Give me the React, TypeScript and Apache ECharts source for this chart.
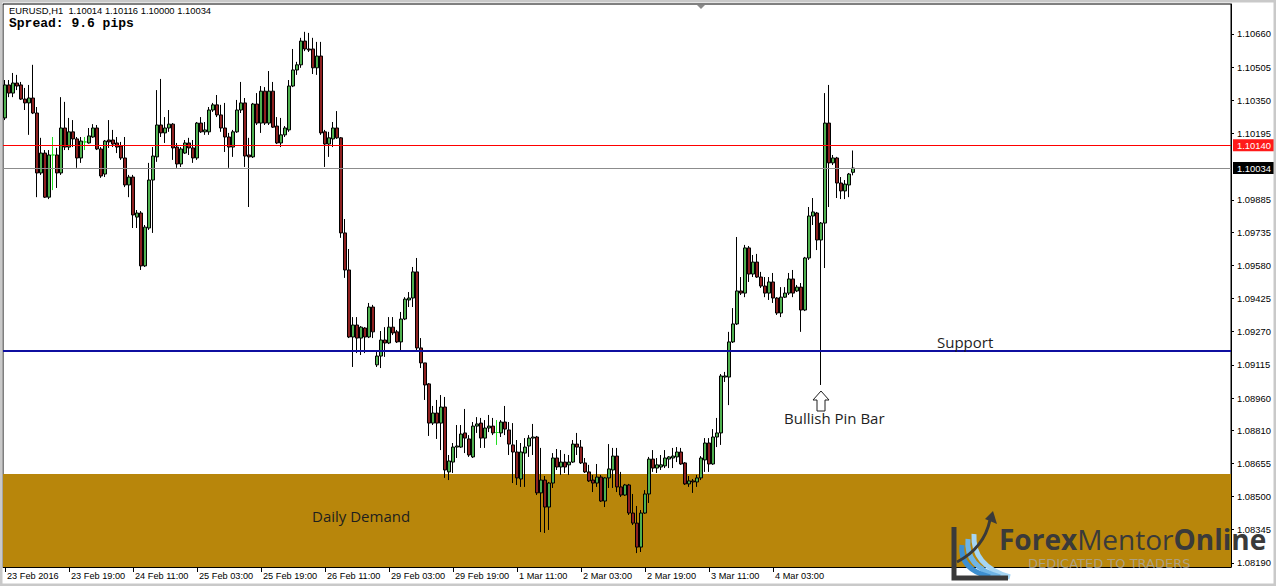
import React, { useEffect, useRef } from "react";
import * as echarts from "echarts";

// ---------- data ----------
const symbolName = "EURUSD,H1";
const year = 2016;
const days = ["23 Feb", "24 Feb", "25 Feb", "26 Feb", "29 Feb", "1 Mar", "2 Mar", "3 Mar", "4 Mar"];
const firstHour = 3;
const totalSlots = 307; // bars + empty chart-shift space
const labelEvery = 16;

// [open, close, low, high]
const candles: number[][] = [
  [1.10268, 1.10422, 1.10258, 1.10445], [1.10422, 1.10384, 1.10365, 1.10445], [1.10384, 1.10431, 1.10365, 1.10478],
  [1.10431, 1.10417, 1.10398, 1.10469], [1.10422, 1.10356, 1.10352, 1.10436], [1.10356, 1.10338, 1.10305, 1.10408],
  [1.10338, 1.10361, 1.10189, 1.10422], [1.10361, 1.10291, 1.10286, 1.10516], [1.10291, 1.10011, 1.09898, 1.10319],
  [1.10011, 1.10104, 1.10002, 1.10175], [1.10104, 1.09898, 1.09894, 1.10118], [1.09898, 1.10095, 1.09889, 1.10118],
  [1.10095, 1.10095, 1.09931, 1.10179], [1.10095, 1.10011, 1.09941, 1.10128], [1.10011, 1.10221, 1.10002, 1.10365],
  [1.10221, 1.10132, 1.10118, 1.10343], [1.10132, 1.10203, 1.10118, 1.10268], [1.10203, 1.10170, 1.10132, 1.10258],
  [1.10170, 1.10081, 1.10035, 1.10179], [1.10081, 1.10160, 1.10058, 1.10179], [1.10156, 1.10156, 1.10118, 1.10179],
  [1.10151, 1.10184, 1.10148, 1.10221], [1.10179, 1.10221, 1.10175, 1.10239], [1.10221, 1.10123, 1.10118, 1.10235],
  [1.10123, 1.09997, 1.09988, 1.10132], [1.10006, 1.10160, 1.09992, 1.10165], [1.10165, 1.10156, 1.10128, 1.10258],
  [1.10165, 1.10146, 1.10132, 1.10212], [1.10151, 1.10132, 1.10104, 1.10179], [1.10137, 1.10081, 1.10072, 1.10156],
  [1.10081, 1.09955, 1.09945, 1.10179], [1.09955, 1.09992, 1.09898, 1.10002], [1.09992, 1.09815, 1.09754, 1.10002],
  [1.09805, 1.09824, 1.09754, 1.09838], [1.09824, 1.09577, 1.09558, 1.09833], [1.09577, 1.09758, 1.09572, 1.09768],
  [1.09754, 1.09978, 1.09745, 1.10058], [1.09978, 1.10090, 1.09731, 1.10132], [1.10086, 1.10235, 1.10063, 1.10398],
  [1.10235, 1.10198, 1.10179, 1.10450], [1.10198, 1.10221, 1.10151, 1.10272], [1.10221, 1.10239, 1.10203, 1.10305],
  [1.10239, 1.10128, 1.10072, 1.10244], [1.10132, 1.10053, 1.10035, 1.10151], [1.10053, 1.10123, 1.10039, 1.10132],
  [1.10104, 1.10151, 1.10100, 1.10165], [1.10151, 1.10128, 1.10095, 1.10175], [1.10128, 1.10081, 1.10058, 1.10165],
  [1.10081, 1.10244, 1.10072, 1.10249], [1.10244, 1.10203, 1.10198, 1.10272], [1.10203, 1.10212, 1.10189, 1.10249],
  [1.10203, 1.10305, 1.10189, 1.10319], [1.10305, 1.10329, 1.10296, 1.10338], [1.10329, 1.10282, 1.10272, 1.10375],
  [1.10282, 1.10221, 1.10203, 1.10329], [1.10221, 1.10179, 1.10109, 1.10338], [1.10179, 1.10132, 1.10035, 1.10198],
  [1.10132, 1.10203, 1.10086, 1.10212], [1.10203, 1.10305, 1.10198, 1.10352], [1.10305, 1.10338, 1.10291, 1.10436],
  [1.10338, 1.10090, 1.10039, 1.10361], [1.10095, 1.10086, 1.09852, 1.10175], [1.10086, 1.10333, 1.10081, 1.10338],
  [1.10333, 1.10244, 1.10235, 1.10384], [1.10244, 1.10393, 1.10198, 1.10417], [1.10393, 1.10244, 1.10235, 1.10412],
  [1.10244, 1.10393, 1.10235, 1.10487], [1.10393, 1.10225, 1.10221, 1.10436], [1.10230, 1.10151, 1.10146, 1.10272],
  [1.10151, 1.10189, 1.10132, 1.10268], [1.10189, 1.10221, 1.10179, 1.10230], [1.10212, 1.10417, 1.10203, 1.10445],
  [1.10417, 1.10492, 1.10412, 1.10590], [1.10492, 1.10516, 1.10469, 1.10530], [1.10516, 1.10627, 1.10502, 1.10642],
  [1.10627, 1.10590, 1.10580, 1.10670], [1.10590, 1.10585, 1.10576, 1.10665], [1.10590, 1.10502, 1.10473, 1.10642],
  [1.10502, 1.10557, 1.10469, 1.10623], [1.10557, 1.10198, 1.10189, 1.10623], [1.10203, 1.10146, 1.10039, 1.10212],
  [1.10146, 1.10175, 1.10086, 1.10203], [1.10170, 1.10221, 1.10132, 1.10249], [1.10221, 1.10175, 1.10170, 1.10300],
  [1.10175, 1.09731, 1.09708, 1.10179], [1.09731, 1.09558, 1.09521, 1.09796], [1.09558, 1.09245, 1.09240, 1.09656],
  [1.09245, 1.09301, 1.09105, 1.09338], [1.09301, 1.09240, 1.09170, 1.09338], [1.09240, 1.09291, 1.09161, 1.09296],
  [1.09287, 1.09245, 1.09170, 1.09291], [1.09245, 1.09385, 1.09240, 1.09404], [1.09385, 1.09269, 1.09240, 1.09395],
  [1.09115, 1.09156, 1.09105, 1.09184], [1.09156, 1.09231, 1.09100, 1.09273], [1.09231, 1.09217, 1.09152, 1.09291],
  [1.09217, 1.09291, 1.09212, 1.09338], [1.09291, 1.09264, 1.09254, 1.09338], [1.09269, 1.09222, 1.09217, 1.09278],
  [1.09222, 1.09329, 1.09184, 1.09362], [1.09329, 1.09422, 1.09324, 1.09431], [1.09418, 1.09427, 1.09385, 1.09455],
  [1.09427, 1.09549, 1.09385, 1.09572], [1.09549, 1.09194, 1.09184, 1.09614], [1.09194, 1.09124, 1.09100, 1.09240],
  [1.09124, 1.09021, 1.08951, 1.09124], [1.09026, 1.08843, 1.08783, 1.09030], [1.08843, 1.08890, 1.08834, 1.08923],
  [1.08890, 1.08843, 1.08769, 1.08951], [1.08843, 1.08918, 1.08717, 1.08974], [1.08918, 1.08624, 1.08587, 1.08965],
  [1.08615, 1.08666, 1.08577, 1.08694], [1.08661, 1.08731, 1.08610, 1.08750], [1.08731, 1.08736, 1.08680, 1.08834],
  [1.08731, 1.08792, 1.08727, 1.08834], [1.08797, 1.08773, 1.08703, 1.08909], [1.08769, 1.08694, 1.08685, 1.08787],
  [1.08685, 1.08829, 1.08680, 1.08848], [1.08829, 1.08839, 1.08797, 1.08871], [1.08843, 1.08773, 1.08727, 1.08867],
  [1.08773, 1.08820, 1.08727, 1.08857], [1.08820, 1.08829, 1.08801, 1.08881], [1.08829, 1.08797, 1.08787, 1.08867],
  [1.08799, 1.08799, 1.08741, 1.08857], [1.08797, 1.08848, 1.08778, 1.08857], [1.08848, 1.08815, 1.08787, 1.08923],
  [1.08811, 1.08745, 1.08694, 1.08848], [1.08741, 1.08708, 1.08563, 1.08843], [1.08708, 1.08587, 1.08554, 1.08764],
  [1.08582, 1.08708, 1.08545, 1.08750], [1.08703, 1.08731, 1.08545, 1.08773], [1.08736, 1.08773, 1.08685, 1.08787],
  [1.08773, 1.08778, 1.08694, 1.08839], [1.08778, 1.08517, 1.08507, 1.08783], [1.08517, 1.08577, 1.08334, 1.08727],
  [1.08577, 1.08451, 1.08330, 1.08596], [1.08451, 1.08563, 1.08344, 1.08568], [1.08563, 1.08680, 1.08540, 1.08703],
  [1.08680, 1.08638, 1.08624, 1.08722], [1.08638, 1.08661, 1.08601, 1.08717], [1.08661, 1.08638, 1.08610, 1.08699],
  [1.08648, 1.08661, 1.08601, 1.08694], [1.08661, 1.08745, 1.08657, 1.08764], [1.08745, 1.08731, 1.08694, 1.08797],
  [1.08731, 1.08657, 1.08652, 1.08764], [1.08657, 1.08615, 1.08610, 1.08680], [1.08615, 1.08573, 1.08568, 1.08648],
  [1.08577, 1.08563, 1.08521, 1.08601], [1.08563, 1.08591, 1.08545, 1.08652], [1.08591, 1.08479, 1.08475, 1.08601],
  [1.08479, 1.08587, 1.08451, 1.08591], [1.08587, 1.08629, 1.08540, 1.08745], [1.08624, 1.08689, 1.08540, 1.08727],
  [1.08689, 1.08545, 1.08521, 1.08727], [1.08545, 1.08507, 1.08498, 1.08615], [1.08507, 1.08554, 1.08503, 1.08559],
  [1.08554, 1.08423, 1.08414, 1.08559], [1.08423, 1.08376, 1.08367, 1.08512], [1.08376, 1.08264, 1.08236, 1.08456],
  [1.08264, 1.08423, 1.08241, 1.08437], [1.08423, 1.08512, 1.08419, 1.08530], [1.08512, 1.08675, 1.08470, 1.08685],
  [1.08675, 1.08633, 1.08615, 1.08717], [1.08633, 1.08648, 1.08610, 1.08680], [1.08638, 1.08648, 1.08624, 1.08694],
  [1.08643, 1.08680, 1.08633, 1.08717], [1.08675, 1.08685, 1.08633, 1.08689], [1.08680, 1.08689, 1.08633, 1.08727],
  [1.08685, 1.08708, 1.08661, 1.08731], [1.08708, 1.08652, 1.08648, 1.08727], [1.08657, 1.08559, 1.08554, 1.08661],
  [1.08559, 1.08573, 1.08545, 1.08596], [1.08573, 1.08568, 1.08517, 1.08582], [1.08568, 1.08587, 1.08545, 1.08601],
  [1.08587, 1.08680, 1.08577, 1.08689], [1.08671, 1.08750, 1.08615, 1.08773], [1.08750, 1.08652, 1.08615, 1.08773],
  [1.08652, 1.08778, 1.08648, 1.08815], [1.08778, 1.08797, 1.08731, 1.08867], [1.08797, 1.09063, 1.08741, 1.09072],
  [1.09058, 1.09063, 1.09035, 1.09082], [1.09058, 1.09222, 1.08927, 1.09269], [1.09222, 1.09306, 1.09217, 1.09380],
  [1.09306, 1.09460, 1.09301, 1.09712], [1.09460, 1.09450, 1.09441, 1.09525], [1.09450, 1.09661, 1.09431, 1.09675],
  [1.09661, 1.09539, 1.09502, 1.09670], [1.09539, 1.09595, 1.09525, 1.09628], [1.09595, 1.09525, 1.09521, 1.09633],
  [1.09525, 1.09483, 1.09474, 1.09549], [1.09483, 1.09450, 1.09431, 1.09525], [1.09450, 1.09502, 1.09418, 1.09525],
  [1.09502, 1.09427, 1.09404, 1.09544], [1.09427, 1.09357, 1.09348, 1.09431], [1.09357, 1.09431, 1.09338, 1.09478],
  [1.09431, 1.09450, 1.09427, 1.09478], [1.09450, 1.09516, 1.09441, 1.09544], [1.09516, 1.09450, 1.09431, 1.09558],
  [1.09460, 1.09478, 1.09455, 1.09488], [1.09478, 1.09371, 1.09269, 1.09497], [1.09371, 1.09614, 1.09366, 1.09619],
  [1.09614, 1.09810, 1.09605, 1.09852], [1.09810, 1.09829, 1.09768, 1.09894], [1.09824, 1.09698, 1.09651, 1.09829],
  [1.09698, 1.09777, 1.09021, 1.09782], [1.09777, 1.10244, 1.09567, 1.10384], [1.10244, 1.10058, 1.09852, 1.10422],
  [1.10058, 1.10081, 1.10048, 1.10095], [1.10081, 1.09964, 1.09894, 1.10086], [1.09964, 1.09927, 1.09889, 1.09992],
  [1.09927, 1.09959, 1.09889, 1.09978], [1.09955, 1.10006, 1.09898, 1.10011], [1.10014, 1.10034, 1.10000, 1.10116],
];

const priceTicks = [1.0819, 1.08345, 1.085, 1.08655, 1.0881, 1.0896, 1.09115, 1.0927, 1.09425, 1.0958, 1.09735, 1.09885, 1.10195, 1.1035, 1.10505, 1.1066];
const yMin = 1.08171;
const yMax = 1.108;
const bidLevel = 1.1014;
const supportLevel = 1.0918;
const demandTop = 1.08605;
const spreadPips = 9.6;

// ---------- colours ----------
const bullFill = "#4fb14f";
const bearFill = "#8e2020";
const dojiColor = "#22dd22";
const zoneColor = "#b8860b";
const axisFont = "Liberation Sans";

const barTimes: string[] = [];
days.forEach((d, di) => {
  for (let h = di === 0 ? firstHour : 0; h < 24; h++) {
    barTimes.push(`${d} ${String(h).padStart(2, "0")}:00`);
  }
});
const categories: string[] = [];
for (let i = 0; i < totalSlots; i++) categories.push(i < barTimes.length ? barTimes[i] : `slot${i}`);
const lastBarLabel = Math.floor((barTimes.length - 1) / labelEvery) * labelEvery;
const showTime = (idx: number) => idx % labelEvery === 0 && idx <= lastBarLabel && idx < barTimes.length;

const last = candles[candles.length - 1];
const lastPrice = last[1];

function levelSeries(name: string, value: number, color: string, width: number, z: number, labelBg: string | null): any {
  const lineStyle = { color, width, type: "solid", opacity: 1 };
  return {
    name,
    type: "line",
    data: [],
    z,
    silent: true,
    color,
    itemStyle: { color },
    lineStyle,
    markLine: {
      silent: true,
      precision: 5,
      symbol: ["none", "none"],
      itemStyle: { color },
      lineStyle,
      label: labelBg
        ? {
            show: true, position: "end", distance: 2,
            formatter: () => value.toFixed(5),
            backgroundColor: labelBg, color: "#fff", padding: [2, 4, 1, 4], fontSize: 9.4, fontFamily: axisFont,
          }
        : { show: false },
      emphasis: { disabled: true },
      data: [{ yAxis: value, lineStyle }],
    },
  };
}

function buildOption(): any {
  const seriesData = candles.map((c) =>
    c[0] === c[1]
      ? { value: c, itemStyle: { color: dojiColor, color0: dojiColor, borderColor: dojiColor, borderColor0: dojiColor } }
      : c
  );
  return {
    animation: false,
    backgroundColor: "#ffffff",
    grid: { left: 3, top: 4, right: 45, bottom: 19, show: true, backgroundColor: "#ffffff", borderColor: "#000", borderWidth: 1 },
    xAxis: {
      type: "category",
      data: categories,
      boundaryGap: true,
      axisLine: { show: true, lineStyle: { color: "#000", width: 1 } },
      axisTick: { show: true, alignWithLabel: true, interval: (i: number) => showTime(i), length: 5, lineStyle: { color: "#000" } },
      axisLabel: {
        interval: (i: number) => showTime(i),
        showMinLabel: true,
        showMaxLabel: false,
        align: "left",
        margin: 4,
        padding: [0, 0, 0, 2],
        fontSize: 9.2,
        fontFamily: axisFont,
        color: "#000",
        formatter: (v: string, i: number) => (i === 0 ? `${days[0]} ${year}` : v.startsWith("slot") ? "" : v),
      },
      splitLine: { show: false },
    },
    yAxis: {
      type: "value",
      position: "right",
      min: yMin,
      max: yMax,
      scale: true,
      splitLine: { show: false },
      axisLine: { show: true, lineStyle: { color: "#000", width: 1 } },
      axisTick: { show: true, customValues: priceTicks, length: 3, lineStyle: { color: "#000" } },
      axisLabel: {
        customValues: priceTicks,
        formatter: (v: number) => v.toFixed(5),
        margin: 6,
        fontSize: 9.4,
        fontFamily: axisFont,
        color: "#000",
      },
    },
    series: [
      {
        type: "line",
        data: [],
        z: 1,
        silent: true,
        markArea: {
          silent: true,
          precision: 5,
          itemStyle: { color: zoneColor, opacity: 1 },
          data: [[{ yAxis: demandTop }, { yAxis: yMin }]],
        },
      },
      levelSeries("bid", bidLevel, "#ff0000", 1, 2, "#ff1a1a"),
      levelSeries("last", lastPrice, "#8c8c8c", 1, 2, "#000000"),
      {
        type: "candlestick",
        z: 3,
        barWidth: 3,
        data: seriesData,
        itemStyle: { color: bullFill, color0: bearFill, borderColor: "#000", borderColor0: "#000", borderWidth: 1 },
      },
      levelSeries("support", supportLevel, "#0f0fa0", 2, 4, null),
    ],
    graphic: [
      // window frame
      { type: "rect", shape: { x: 1, y: 1, width: 1274, height: 584 }, style: { fill: "none", stroke: "#c9c9c9", lineWidth: 3 }, z: 200, silent: true },
      // chart-shift marker
      { type: "polygon", shape: { points: [[697, 5], [705, 5], [701, 9]] }, style: { fill: "#8a8a8a" }, z: 50 },
      {
        type: "text", left: 9, top: 6, z: 50,
        style: {
          text: `${symbolName}  ${last[0].toFixed(5)} ${last[3].toFixed(5)} ${last[2].toFixed(5)} ${last[1].toFixed(5)}`,
          fontSize: 9.4, fontFamily: axisFont, fill: "#000",
        },
      },
      {
        type: "text", left: 9, top: 17, z: 50,
        style: { text: `Spread: ${spreadPips} pips`, fontSize: 13, fontWeight: "bold", fontFamily: "Liberation Mono", fill: "#000" },
      },
      { type: "text", left: 937, top: 334, z: 50, style: { text: "Support", fontSize: 15, fontFamily: "Open Sans", fill: "#1e1e1e" } },
      { type: "text", left: 784, top: 410, z: 50, style: { text: "Bullish Pin Bar", fontSize: 15, fontFamily: "Open Sans", fill: "#1e1e1e" } },
      { type: "text", left: 312, top: 508, z: 50, style: { text: "Daily Demand", fontSize: 15, fontFamily: "Open Sans", fill: "#1e1e1e" } },
      {
        type: "polygon", z: 50,
        shape: { points: [[821, 391], [829, 400], [825, 400], [825, 411], [817, 411], [817, 400], [813, 400]] },
        style: { fill: "#ffffff", stroke: "#1e1e1e", lineWidth: 1 },
      },
      // logo
      { type: "bezierCurve", z: 100, shape: { x1: 974, y1: 534, cpx1: 972, cpy1: 566, x2: 1010, y2: 577 }, style: { stroke: "#a6d6f4", lineWidth: 5, fill: "none" } },
      { type: "bezierCurve", z: 100, shape: { x1: 968, y1: 539, cpx1: 965, cpy1: 567, x2: 1000, y2: 577 }, style: { stroke: "#6fb5e6", lineWidth: 5, fill: "none" } },
      { type: "bezierCurve", z: 100, shape: { x1: 962, y1: 545, cpx1: 959, cpy1: 569, x2: 990, y2: 577 }, style: { stroke: "#3d8fd0", lineWidth: 5, fill: "none" } },
      { type: "bezierCurve", z: 101, shape: { x1: 957, y1: 562, cpx1: 984, cpy1: 548, x2: 990, y2: 520 }, style: { stroke: "#3a3a3a", lineWidth: 3, fill: "none" } },
      { type: "polygon", z: 101, shape: { points: [[993, 511], [997, 524], [985, 519]] }, style: { fill: "#3a3a3a" } },
      { type: "polyline", z: 101, shape: { points: [[954, 527], [954, 578], [1008, 578]] }, style: { stroke: "#3a3a3a", lineWidth: 5, fill: "none" } },
      {
        type: "text", z: 101, left: 999, top: 525,
        style: {
          text: "{b|Forex}{r|Mentor}{b|Online}",
          rich: {
            b: { fontSize: 28, fontWeight: "bold", fontFamily: "Open Sans", fill: "#3a3a3a", lineHeight: 30 },
            r: { fontSize: 28, fontWeight: "normal", fontFamily: "Open Sans", fill: "#3a3a3a", lineHeight: 30 },
          },
        },
      },
      {
        type: "text", z: 101, left: 1028, top: 557,
        style: { text: "DEDICATED TO TRADERS", fontSize: 13, fontFamily: "DejaVu Sans", fill: "rgba(170,170,170,0.75)" },
      },
    ],
  };
}

export default function App() {
  const ref = useRef<HTMLDivElement>(null);
  useEffect(() => {
    if (!ref.current) return;
    const chart = echarts.init(ref.current, undefined, { renderer: "svg" });
    chart.setOption(buildOption());
    return () => chart.dispose();
  }, []);
  return (
    <div
      ref={ref}
      style={{ position: "fixed", left: 0, top: 0, width: 1276, height: 586, background: "#fff" }}
    />
  );
}
